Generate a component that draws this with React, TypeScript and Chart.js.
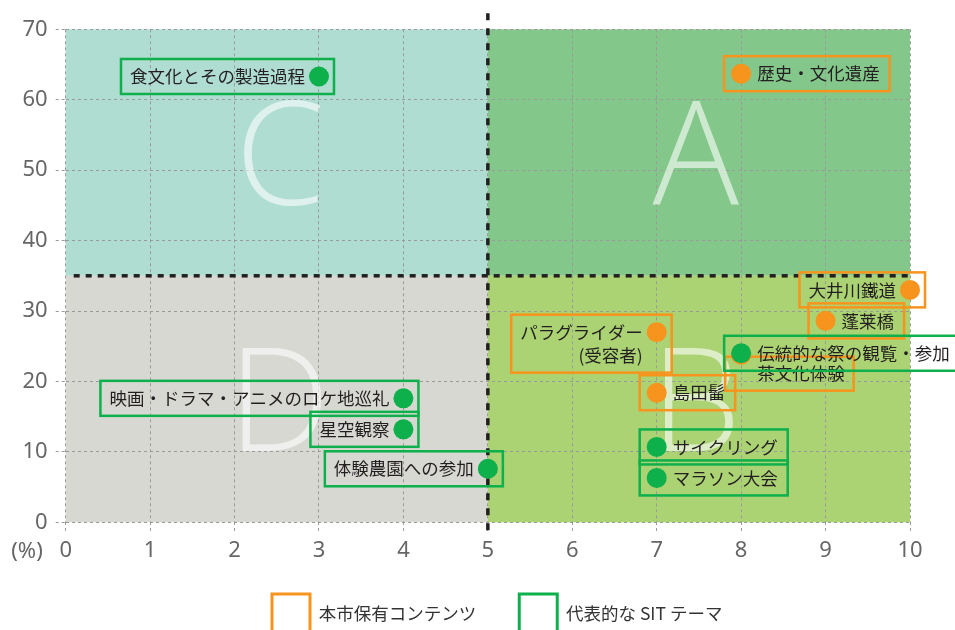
import React, { useEffect, useRef } from 'react';
import { Chart, registerables } from 'chart.js';

Chart.register(...registerables);

// ---- data ----
const orangeLabels = ['歴史・文化遺産', '大井川鐵道', '蓬莱橋', 'パラグライダー\n(受容者)', '茶文化体験', '島田髷'];
const orangeX = [8, 10, 9, 7, 8, 7];
const orangeY = [63.7, 33.0, 28.6, 27.0, 23.8, 18.4];

const greenLabels = ['食文化とその製造過程', '伝統的な祭の観覧・参加', '映画・ドラマ・アニメのロケ地巡礼', '星空観察', '体験農園への参加', 'サイクリング', 'マラソン大会'];
const greenX = [3, 8, 4, 4, 5, 7, 7];
const greenY = [63.3, 24.0, 17.6, 13.2, 7.6, 10.7, 6.3];

const legendLabels = ['本市保有コンテンツ', '代表的な SIT テーマ'];
const quadrantLetters = ['A', 'B', 'C', 'D'];
const unitLabel = '(%)';
const xRange = [0, 10];
const yRange = [0, 70];
const splitX = 5;
const splitY = 35;

// ---- styles (label placement) ----
const orangePlace = ['right', 'left', 'right', 'left', 'below', 'right'];
const greenPlace = ['left', 'right', 'left', 'left', 'left', 'right', 'right'];

const ORANGE = '#F7941D';
const GREEN = '#0DB04B';
const LABEL_FONT = '17.5px "Noto Sans CJK JP", sans-serif';
const TICK_FONT = { family: '"Noto Sans", sans-serif', size: 22 };

function drawLabel(ctx: CanvasRenderingContext2D, px: number, py: number, text: string, place: string, color: string) {
  const lines = text.split('\n');
  ctx.font = LABEL_FONT;
  const widths = lines.map((s) => ctx.measureText(s).width);
  const maxW = Math.max(...widths);
  const lh = 23;
  let boxL: number, boxR: number, tx: number, ty0: number;
  let align: CanvasTextAlign;
  if (place === 'left') {
    tx = px - 14; align = 'right'; boxL = tx - maxW - 9; boxR = px + 15; ty0 = py;
  } else if (place === 'right') {
    tx = px + 16; align = 'left'; boxL = px - 17; boxR = tx + maxW + 10; ty0 = py;
  } else {
    tx = px + 16; align = 'left'; boxL = px - 16; boxR = tx + maxW + 9; ty0 = py + 18.5;
  }
  const tyLast = ty0 + (lines.length - 1) * lh;
  const boxT = place === 'below' ? py + 2 : ty0 - 17.5;
  const boxB = tyLast + 17.5;
  ctx.save();
  ctx.strokeStyle = color;
  ctx.lineWidth = 2.5;
  ctx.strokeRect(boxL, boxT, boxR - boxL, boxB - boxT);
  ctx.fillStyle = '#231F20';
  ctx.textAlign = align;
  ctx.textBaseline = 'middle';
  lines.forEach((s, i) => ctx.fillText(s, tx, ty0 + i * lh));
  ctx.restore();
}

export default function App() {
  const ref = useRef<HTMLCanvasElement>(null);

  useEffect(() => {
    document.body.style.margin = '0';
    const canvas = ref.current!;

    const plugin = {
      id: 'quadrants',
      afterLayout(chart: any) {
        const lg = chart.legend;
        if (!lg || !lg.lineWidths) return;
        const pad = 43;
        const curStart = (lg.left + pad + lg.right - lg.lineWidths[0]) / 2;
        const dx = 272 - curStart;
        lg.left += dx; lg.right += dx;
        const dy = 594 - (lg.top + pad);
        lg.top += dy; lg.bottom += dy;
      },
      beforeDraw(chart: any) {
        const { ctx } = chart;
        const xs = chart.scales.x, ys = chart.scales.y;
        const l = xs.getPixelForValue(xRange[0]), r = xs.getPixelForValue(xRange[1]), m = xs.getPixelForValue(splitX);
        const t = ys.getPixelForValue(yRange[1]), b = ys.getPixelForValue(yRange[0]), c = ys.getPixelForValue(splitY);
        ctx.save();
        ctx.fillStyle = '#B0DDD2'; ctx.fillRect(l, t, m - l, c - t); // C
        ctx.fillStyle = '#83C78A'; ctx.fillRect(m, t, r - m, c - t); // A
        ctx.fillStyle = '#D8D8D3'; ctx.fillRect(l, c, m - l, b - c); // D
        ctx.fillStyle = '#ABD273'; ctx.fillRect(m, c, r - m, b - c); // B
        ctx.restore();
      },
      beforeDatasetsDraw(chart: any) {
        const { ctx } = chart;
        const xs = chart.scales.x, ys = chart.scales.y;
        const l = xs.getPixelForValue(xRange[0]), r = xs.getPixelForValue(xRange[1]), m = xs.getPixelForValue(splitX);
        const t = ys.getPixelForValue(yRange[1]), b = ys.getPixelForValue(yRange[0]), c = ys.getPixelForValue(splitY);
        // big letters
        ctx.save();
        ctx.font = '300 144px "Open Sans", Roboto, sans-serif';
        ctx.fillStyle = 'rgba(255,255,255,0.6)';
        ctx.textAlign = 'left';
        ctx.textBaseline = 'alphabetic';
        const centers: Record<string, [number, number]> = {
          A: [(m + r) / 2 - 3, (t + c) / 2],
          B: [(m + r) / 2, (c + b) / 2],
          C: [(l + m) / 2 + 5, (t + c) / 2],
          D: [(l + m) / 2 + 5, (c + b) / 2],
        };
        quadrantLetters.forEach((L) => {
          const [cx, cy] = centers[L];
          const mt = ctx.measureText(L);
          const w = mt.actualBoundingBoxRight + mt.actualBoundingBoxLeft;
          const h = mt.actualBoundingBoxAscent + mt.actualBoundingBoxDescent;
          ctx.fillText(L, cx - w / 2 + mt.actualBoundingBoxLeft, cy + h / 2 - mt.actualBoundingBoxDescent);
        });
        ctx.restore();

        // dashed split lines
        ctx.save();
        ctx.strokeStyle = '#231F20';
        ctx.lineWidth = 3.5;
        ctx.setLineDash([6, 6]);
        ctx.beginPath();
        ctx.moveTo(l + 8, c);
        ctx.lineTo(r, c);
        ctx.stroke();
        ctx.setLineDash([7, 8]);
        ctx.beginPath();
        ctx.moveTo(m, t - 16);
        ctx.lineTo(m, b + 14);
        ctx.stroke();
        ctx.restore();

        // labels
        const om = chart.getDatasetMeta(0);
        const gm = chart.getDatasetMeta(1);
        orangeLabels.forEach((txt, i) => {
          const p = om.data[i];
          drawLabel(ctx, p.x, p.y, txt, orangePlace[i], ORANGE);
        });
        greenLabels.forEach((txt, i) => {
          const p = gm.data[i];
          drawLabel(ctx, p.x, p.y, txt, greenPlace[i], GREEN);
        });
      },
      afterDraw(chart: any) {
        const { ctx } = chart;
        const b = chart.scales.y.getPixelForValue(yRange[0]);
        ctx.save();
        ctx.font = '22px "Noto Sans", sans-serif';
        ctx.fillStyle = '#666666';
        ctx.textAlign = 'center';
        ctx.textBaseline = 'middle';
        ctx.fillText(unitLabel, 27, b + 29);
        ctx.restore();
      },
    };

    const chart = new Chart(canvas, {
      type: 'scatter',
      data: {
        datasets: [
          {
            label: legendLabels[0],
            data: orangeX.map((x, i) => ({ x, y: orangeY[i] })),
            backgroundColor: ORANGE,
            borderWidth: 0,
            pointRadius: 10,
            pointHoverRadius: 10,
            order: 1,
            clip: false as any,
          },
          {
            label: legendLabels[1],
            data: greenX.map((x, i) => ({ x, y: greenY[i] })),
            backgroundColor: GREEN,
            borderWidth: 0,
            pointRadius: 10,
            pointHoverRadius: 10,
            order: 0,
            clip: false as any,
          },
        ],
      },
      options: {
        responsive: false,
        animation: false,
        events: [],
        layout: { padding: { top: 29.3, right: 45, bottom: -23.3, left: 0 } },
        plugins: {
          tooltip: { enabled: false },
          legend: {
            position: 'bottom',
            labels: {
              boxWidth: 38,
              boxHeight: 38,
              padding: 43,
              color: '#333333',
              font: { family: '"Noto Sans CJK JP", sans-serif', size: 17.5 },
              generateLabels: () => [
                { text: legendLabels[0], fillStyle: 'rgba(0,0,0,0)', strokeStyle: ORANGE, fontColor: '#333333', lineWidth: 3, hidden: false, datasetIndex: 0 } as any,
                { text: legendLabels[1], fillStyle: 'rgba(0,0,0,0)', strokeStyle: GREEN, fontColor: '#333333', lineWidth: 3, hidden: false, datasetIndex: 1 } as any,
              ],
            },
          },
        },
        scales: {
          x: {
            type: 'linear',
            min: xRange[0],
            max: xRange[1],
            afterFit: (s: any) => { s.height = 40; },
            border: { display: false, dash: [3, 3] },
            grid: {
              color: '#9a9a9a',
              lineWidth: 1,
              tickLength: 10,
              tickColor: '#9a9a9a',
              tickBorderDash: [3, 3],
            } as any,
            ticks: { stepSize: 1, color: '#666666', font: TICK_FONT, padding: 5, maxRotation: 0 },
          },
          y: {
            type: 'linear',
            min: yRange[0],
            max: yRange[1],
            afterFit: (s: any) => { s.width = 65.7; },
            border: { display: false, dash: [3, 3] },
            grid: {
              color: '#9a9a9a',
              lineWidth: 1,
              tickLength: 10,
              tickColor: '#9a9a9a',
              tickBorderDash: [3, 3],
            } as any,
            ticks: { stepSize: 10, color: '#666666', font: TICK_FONT, padding: 8 },
          },
        },
      },
      plugins: [plugin as any],
    });

    return () => chart.destroy();
  }, []);

  return <canvas ref={ref} width={955} height={630} style={{ display: 'block' }} />;
}
